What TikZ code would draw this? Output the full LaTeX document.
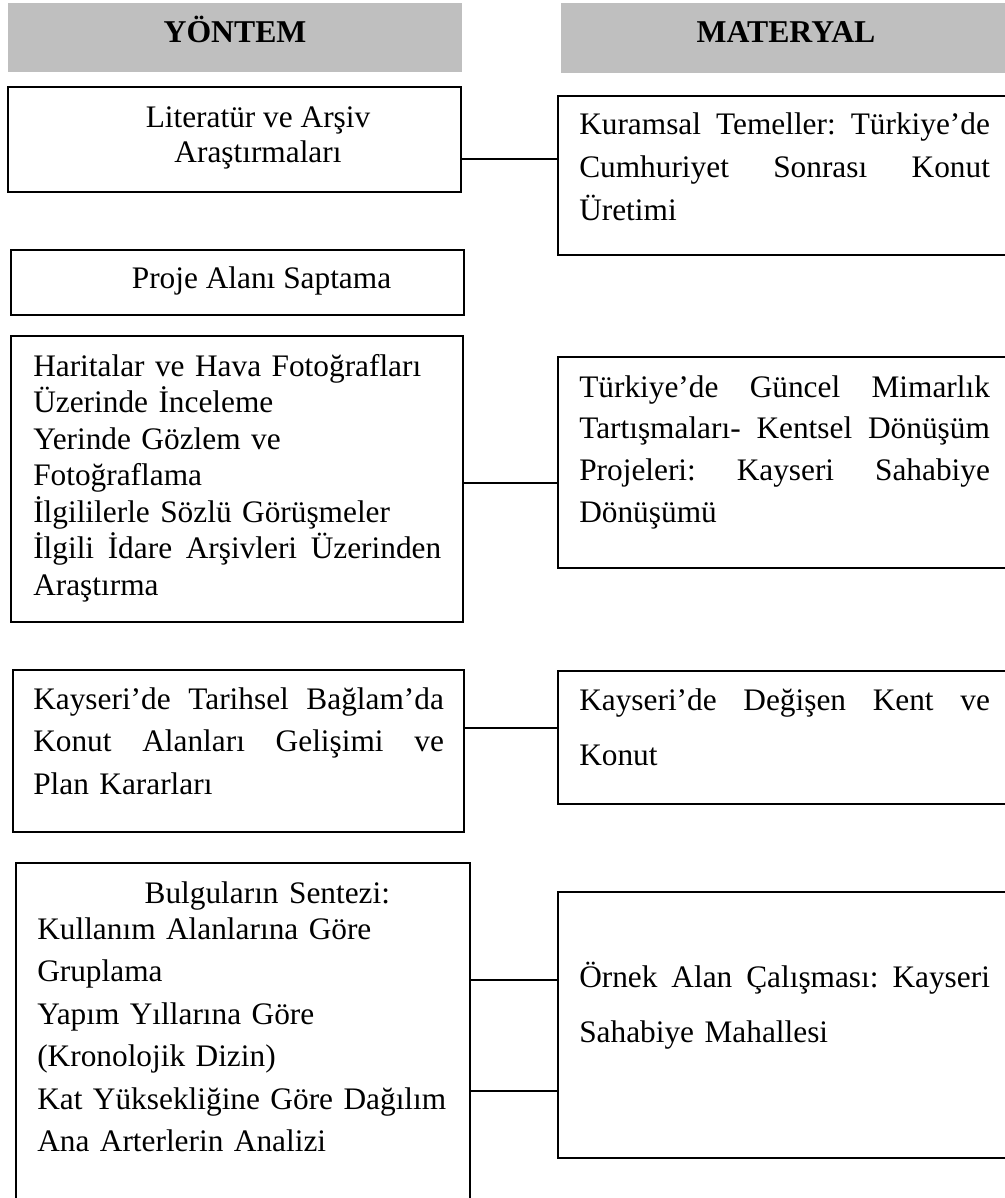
\documentclass[tikz,border=0pt]{standalone}
\usepackage{fontspec}
\setmainfont{Liberation Serif}
\usetikzlibrary{fit}
\definecolor{headgray}{HTML}{BFBFBF}
\newcommand\jlin[2][308pt]{\makebox[#1][l]{#2}}
\begin{document}
\frenchspacing
\begin{tikzpicture}[x=0.75pt,y=-0.75pt,
  box/.style={draw=black, line width=1.2pt, inner sep=0pt},
  head/.style={fill=headgray, draw=none, inner sep=0pt},
  link/.style={draw=black, line width=1pt},
  headtxt/.style={anchor=base, inner sep=0pt, font=\fontsize{23.8}{28}\selectfont\bfseries},
  ctxt/.style={anchor=base, inner sep=0pt, align=center, font=\fontsize{23.5}{#1}\selectfont},
  ltxt/.style={anchor=base west, inner sep=0pt, text width=320pt, align=left, font=\fontsize{23.5}{#1}\selectfont}]
\useasboundingbox (0,0) rectangle (1005,1198);
% headers
\node[head, fit={(8,3) (462,72)}] (hy) {};
\node[head, fit={(561,3) (1020,73)}] (hm) {};
\node[headtxt] (hyt) at (235,43) {YÖNTEM};
\node[headtxt] (hmt) at (786,43) {MATERYAL};
% left boxes
\node[box, fit={(8,87) (461,192)}] (lit) {};
\node[box, fit={(11,250) (464,315)}] (pro) {};
\node[box, fit={(11,336) (463,622)}] (har) {};
\node[box, fit={(13,670) (464,832)}] (tar) {};
\node[box, fit={(16,863) (470,1215)}] (bul) {};
% right boxes
\node[box, fit={(558,96) (1020,255)}] (kur) {};
\node[box, fit={(558,357) (1020,568)}] (gun) {};
\node[box, fit={(558,671) (1020,804)}] (deg) {};
\node[box, fit={(558,892) (1020,1158)}] (orn) {};
% texts
\node[ctxt=26.25pt] (litt) at (258,163) {Literatür ve Arşiv\\Araştırmaları};
\node[ctxt=26.25pt] (prot) at (261.5,288) {Proje Alanı Saptama};
\node[ltxt=27.4pt] (hart) at (33,376) {Haritalar ve Hava Fotoğrafları\\
Üzerinde İnceleme\\
Yerinde Gözlem ve\\
Fotoğraflama\\
İlgililerle Sözlü Görüşmeler\\
\jlin[306pt]{İlgili\hfill İdare\hfill Arşivleri\hfill Üzerinden}\\
Araştırma};
\node[ltxt=31.9pt] (tart) at (33,709) {\jlin{Kayseri’de\hfill Tarihsel\hfill Bağlam’da}\\
\jlin{Konut\hfill Alanları\hfill Gelişimi\hfill ve}\\
Plan Kararları};
\node[ltxt=31.9pt] (bult) at (37,903) {\hspace*{80.5pt}Bulguların Sentezi:\\[-4.9pt]
Kullanım Alanlarına Göre\\
Gruplama\\
Yapım Yıllarına Göre\\
(Kronolojik Dizin)\\
Kat Yüksekliğine Göre Dağılım\\
Ana Arterlerin Analizi};
\node[ltxt=31.9pt] (kurt) at (579,135) {\jlin{Kuramsal\hfill Temeller:\hfill Türkiye’de}\\
\jlin{Cumhuriyet\hfill Sonrası\hfill Konut}\\
Üretimi};
\node[ltxt=31.3pt] (gunt) at (579,397) {\jlin{Türkiye’de\hfill Güncel\hfill Mimarlık}\\
\jlin{Tartışmaları-\hfill Kentsel\hfill Dönüşüm}\\
\jlin{Projeleri:\hfill Kayseri\hfill Sahabiye}\\
Dönüşümü};
\node[ltxt=41.25pt] (degt) at (579,710) {\jlin{Kayseri’de\hfill Değişen\hfill Kent\hfill ve}\\
Konut};
\node[ltxt=41.25pt] (ornt) at (579,987) {\jlin{Örnek\hfill Alan\hfill Çalışması:\hfill Kayseri}\\
Sahabiye Mahallesi};
% connectors
\coordinate (y1) at (0,159);
\coordinate (y2) at (0,483);
\coordinate (y3) at (0,728);
\coordinate (y4) at (0,980);
\coordinate (y5) at (0,1091);
\draw[link] (lit.east |- y1) -- (kur.west |- y1);
\draw[link] (har.east |- y2) -- (gun.west |- y2);
\draw[link] (tar.east |- y3) -- (deg.west |- y3);
\draw[link] (bul.east |- y4) -- (orn.west |- y4);
\draw[link] (bul.east |- y5) -- (orn.west |- y5);
\end{tikzpicture}
\end{document}
